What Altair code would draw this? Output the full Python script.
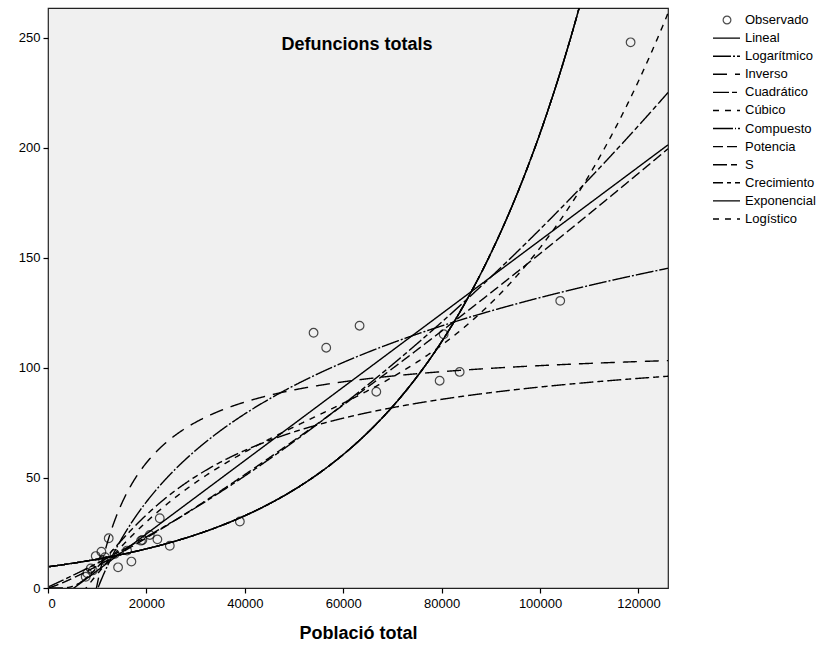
import numpy as np
import pandas as pd
import altair as alt

poblacio = [7660, 7990, 8680, 9100, 9700, 10850, 11190, 11600, 12340, 13560,
            14240, 16070, 16950, 18900, 19180, 20680, 22230, 22710, 24750, 38990,
            53970, 56540, 63320, 66720, 79590, 80410, 83660, 104100, 118400]
defuncions = [5.1, 6.7, 8.9, 8.0, 14.5, 16.5, 12.7, 14.0, 22.6, 15.5,
              9.4, 17.0, 12.0, 21.5, 21.8, 24.1, 22.1, 31.7, 19.2, 30.2,
              116.0, 109.2, 119.2, 89.2, 94.2, 115.3, 98.2, 130.5, 248.0]

models = ["Lineal", "Logarítmico", "Inverso", "Cuadrático", "Cúbico", "Compuesto",
          "Potencia", "S", "Crecimiento", "Exponencial", "Logístico"]
dashes = [[1, 0], [18, 2, 2, 2], [14, 8], [16, 3, 5, 3], [6, 6], [20, 2, 1, 2],
          [10, 4], [14, 4, 6, 4], [10, 4, 4, 4], [1, 0], [6, 6]]
legend_names = ["Observado"] + models

x_ticks = [0, 20000, 40000, 60000, 80000, 100000, 120000]
y_ticks = [0, 50, 100, 150, 200, 250]
X_MAX = 126000
Y_MAX = 263.6

# Curve estimation fits (as SPSS does)
x = np.array(poblacio, float)
y = np.array(defuncions, float)
ly = np.log(y)
one = np.ones_like(x)
grid = np.linspace(200, X_MAX, 1500)


def fit(A, t):
    return np.linalg.lstsq(A, t, rcond=None)[0]


curves = {}
b = fit(np.c_[one, x], y); curves["Lineal"] = b[0] + b[1] * grid
b = fit(np.c_[one, np.log(x)], y); curves["Logarítmico"] = b[0] + b[1] * np.log(grid)
b = fit(np.c_[one, 1 / x], y); curves["Inverso"] = b[0] + b[1] / grid
curves["Cuadrático"] = np.polyval(np.polyfit(x, y, 2), grid)
curves["Cúbico"] = np.polyval(np.polyfit(x, y, 3), grid)
b = fit(np.c_[one, x], ly); expo = np.exp(b[0] + b[1] * grid)
curves["Compuesto"] = expo
curves["Crecimiento"] = expo
curves["Exponencial"] = expo
curves["Logístico"] = expo
b = fit(np.c_[one, np.log(x)], ly); curves["Potencia"] = np.exp(b[0]) * grid ** b[1]
b = fit(np.c_[one, 1 / x], ly); curves["S"] = np.exp(b[0] + b[1] / grid)

rows = []
for m in models:
    vals = np.clip(curves[m], -2000, 2000)
    for gx, gy in zip(grid, vals):
        rows.append({"model": m, "x": float(gx), "y": float(gy)})
curve_df = pd.DataFrame(rows)
obs_df = pd.DataFrame({"x": poblacio, "y": defuncions})

xs = alt.Scale(domain=[0, X_MAX], nice=False, zero=False)
ys = alt.Scale(domain=[0, Y_MAX], nice=False, zero=False)
dash_scale = alt.Scale(domain=models, range=dashes)

lines = alt.Chart(curve_df).mark_line(clip=True, color="black", strokeWidth=1.4).encode(
    x=alt.X("x:Q", scale=xs,
            axis=alt.Axis(values=x_ticks, format="d", title="Població total")),
    y=alt.Y("y:Q", scale=ys, axis=alt.Axis(values=y_ticks, format="d", title=None)),
    strokeDash=alt.StrokeDash("model:N", scale=dash_scale, legend=None),
    detail="model:N",
    order="x:Q",
)

points = alt.Chart(obs_df).mark_point(shape="circle", filled=False, color="black",
                                      size=75, strokeWidth=1.2, clip=True).encode(
    x=alt.X("x:Q", scale=xs),
    y=alt.Y("y:Q", scale=ys, axis=None),
)

title = alt.Chart(pd.DataFrame({"t": ["Defuncions totals"]})).mark_text(
    font="Liberation Sans", fontSize=18, fontWeight="bold", color="black",
    align="center", baseline="middle").encode(
    x=alt.value(309), y=alt.value(37), text="t:N")

leg_scale = alt.Scale(type="point", domain=legend_names, range=[12, 211], padding=0)
leg_lines_df = pd.DataFrame({"model": models})
leg_all_df = pd.DataFrame({"model": legend_names})

leg_rules = alt.Chart(leg_lines_df).mark_rule(color="black", strokeWidth=1.4).encode(
    x=alt.value(665), x2=alt.value(692),
    y=alt.Y("model:N", scale=leg_scale, axis=None),
    strokeDash=alt.StrokeDash("model:N", scale=dash_scale, legend=None),
)
leg_circle = alt.Chart(pd.DataFrame({"model": ["Observado"]})).mark_point(
    shape="circle", filled=False, color="black", size=60, strokeWidth=1.2).encode(
    x=alt.value(679),
    y=alt.Y("model:N", scale=leg_scale, axis=None),
)
leg_text = alt.Chart(leg_all_df).mark_text(
    font="Liberation Sans", fontSize=13, color="black", align="left",
    baseline="middle").encode(
    x=alt.value(697),
    y=alt.Y("model:N", scale=leg_scale, axis=None),
    text="model:N",
)

chart = alt.layer(lines, points, title, leg_rules, leg_circle, leg_text).resolve_scale(
    y="independent"
).properties(
    width=620, height=580,
    autosize=alt.AutoSizeParams(type="none"),
    padding={"left": 48, "top": 8, "right": 163, "bottom": 64},
    background="white",
).configure_view(
    fill="#f0f0f0", stroke="#222222", strokeWidth=1.2
).configure_axis(
    grid=False, domain=False, tickColor="black", tickSize=5, tickWidth=1.2,
    labelFont="Liberation Sans", labelFontSize=13, labelColor="black",
    titleFont="Liberation Sans", titleFontSize=18, titleFontWeight="bold",
    titleColor="black",
).configure_axisX(titlePadding=14, labelPadding=4).configure_axisY(labelPadding=3)

chart.save("out.html", embed_options={"renderer": "svg", "actions": False})
